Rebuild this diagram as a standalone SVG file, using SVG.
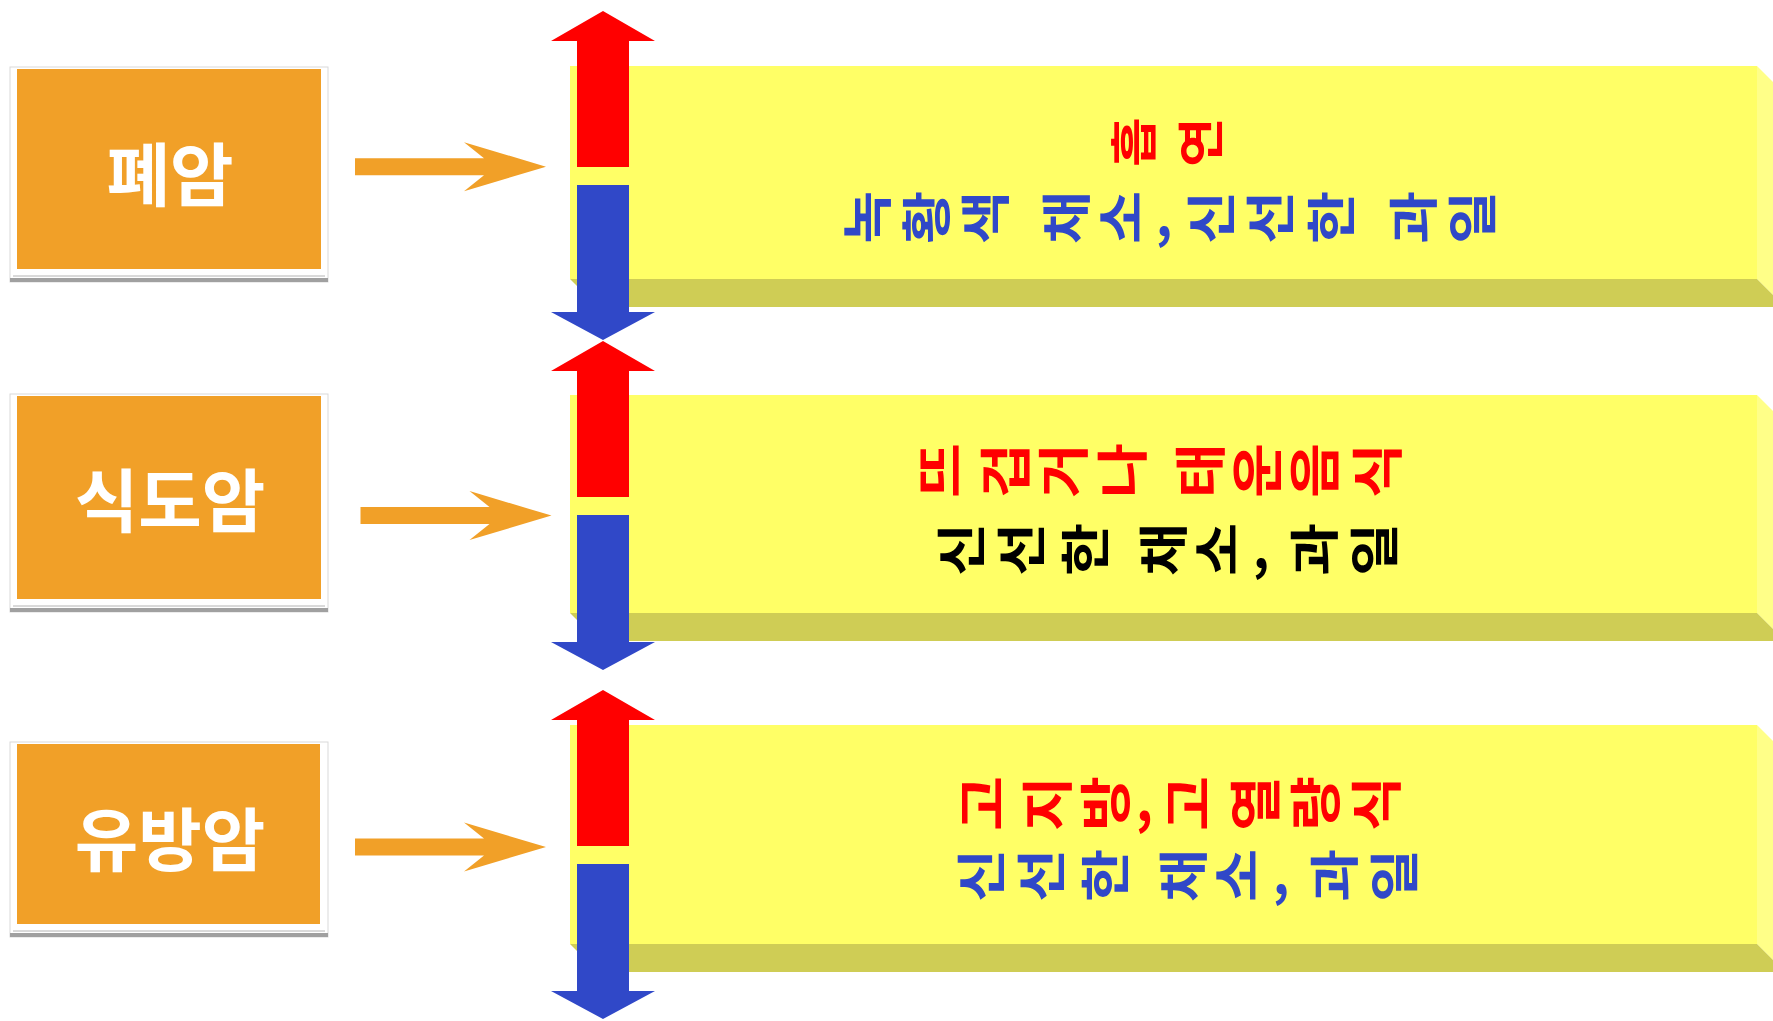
<svg xmlns="http://www.w3.org/2000/svg" width="1773" height="1021" viewBox="0 0 1773 1021">
<style>
.frame{fill:#ffffff;stroke:#d9d9d9;stroke-width:1}
.frameline{stroke:#b4b4b4;stroke-width:1;fill:none}
.frameband{fill:#a0a0a0}
.obox{fill:#F1A028}
.otxt{font-family:'Noto Sans CJK KR','Noto Sans',sans-serif;font-weight:700;font-size:69px;fill:#ffffff;text-anchor:middle}
.yfront{fill:#FFFF66}
.ybottom{fill:#CFCD55}
.yside{fill:#FFFF88}
.vt{font-family:'Noto Sans CJK KR','Noto Sans',sans-serif;font-weight:700}
.red{fill:#FF0000}
.blue{fill:#3048C8}
.black{fill:#000000}
.oarrow{fill:#F1A028}
.uparrow{fill:#FF0000}
.downarrow{fill:#3048C8}
</style>
<defs>
<path id="oa" d="M0,-8.5 L129,-8.5 L109,-24.5 L191,0 L109,24.5 L129,8.5 L0,8.5 Z"/>
<path id="ua" d="M603,11 L655,41 L629,41 L629,167 L577,167 L577,41 L551,41 Z"/>
<path id="da" d="M577,185 L629,185 L629,312 L655,312 L603,340 L551,312 L577,312 Z"/>
</defs>
<rect width="1773" height="1021" fill="#ffffff"/>

<g id="node-lung">
<rect class="frame" x="10" y="67" width="318" height="215"/>
<line class="frameline" x1="13" y1="276" x2="325" y2="276"/>
<rect class="frameband" x="10" y="278" width="318" height="4"/>
<rect class="obox" x="17" y="69" width="304" height="200"/>
<text class="otxt" x="170" y="201">폐암</text>
</g>

<g id="node-esophagus">
<rect class="frame" x="10" y="394" width="318" height="218"/>
<line class="frameline" x1="13" y1="606" x2="325" y2="606"/>
<rect class="frameband" x="10" y="608" width="318" height="4"/>
<rect class="obox" x="17" y="396" width="304" height="203"/>
<text class="otxt" x="170" y="527">식도암</text>
</g>

<g id="node-breast">
<rect class="frame" x="10" y="742" width="318" height="195"/>
<line class="frameline" x1="13" y1="931" x2="325" y2="931"/>
<rect class="frameband" x="10" y="933" width="318" height="4"/>
<rect class="obox" x="17" y="744" width="303" height="180"/>
<text class="otxt" x="170" y="866">유방암</text>
</g>

<g id="connectors">
<use href="#oa" class="oarrow" transform="translate(355,166.7)"/>
<use href="#oa" class="oarrow" transform="translate(360.5,515.6)"/>
<use href="#oa" class="oarrow" transform="translate(355,847)"/>
</g>

<g id="node-factors-lung">
<polygon class="yside" points="1757,66 1785,94 1785,307 1757,279"/>
<polygon class="ybottom" points="570,279 1757,279 1785,307 598,307"/>
<rect class="yfront" x="570" y="66" width="1187" height="213"/>
<use href="#ua" class="uparrow"/>
<use href="#da" class="downarrow"/>
<text class="vt red" font-size="47" transform="translate(0,140) scale(1,1.15) translate(0,-140)" x="1151 1218" y="163.5" rotate="-90 -90">흡연</text>
<text class="vt blue" font-size="50" transform="translate(0,215) scale(1,1.15) translate(0,-215)" x="886 945 1004 1020 1085 1140 1156 1170 1230 1289 1350 1370 1432 1491" y="240 240 240 240 240 240 233 240 240 240 240 240 240 240" rotate="-90 -90 -90 -90 -90 -90 0 -90 -90 -90 -90 -90 -90 -90">녹황색 채소, 신선한 과일</text>
</g>

<g id="node-factors-esophagus">
<polygon class="yside" points="1757,395 1785,423 1785,641 1757,613"/>
<polygon class="ybottom" points="570,613 1757,613 1785,641 598,641"/>
<rect class="yfront" x="570" y="395" width="1187" height="218"/>
<use href="#ua" class="uparrow" transform="translate(0,330)"/>
<use href="#da" class="downarrow" transform="translate(0,330)"/>
<text class="vt red" font-size="52" transform="translate(0,468) scale(1,1.15) translate(0,-468)" x="960 1025 1083 1142 1160 1220 1277 1334 1397" y="494" rotate="-90 -90 -90 -90 -90 -90 -90 -90 -90">뜨겁거나 태운음식</text>
<text class="vt black" font-size="50" transform="translate(0,547) scale(1,1.15) translate(0,-547)" x="980 1040 1104 1120 1182 1236 1253 1265 1333 1393" y="572 572 572 572 572 572 565 572 572 572" rotate="-90 -90 -90 -90 -90 -90 0 -90 -90 -90">신선한 채소, 과일</text>
</g>

<g id="node-factors-breast">
<polygon class="yside" points="1757,725 1785,753 1785,972 1757,944"/>
<polygon class="ybottom" points="570,944 1757,944 1785,972 598,972"/>
<rect class="yfront" x="570" y="725" width="1187" height="219"/>
<use href="#ua" class="uparrow" transform="translate(0,679)"/>
<use href="#da" class="downarrow" transform="translate(0,679)"/>
<text class="vt red" font-size="52" transform="translate(0,801) scale(1,1.15) translate(0,-801)" x="1002 1067 1125 1136 1150 1208 1275 1335 1396" y="827 827 827 818 827 827 827 827 827" rotate="-90 -90 -90 0 -90 -90 -90 -90 -90">고지방, 고열량식</text>
<text class="vt blue" font-size="50" transform="translate(0,873) scale(1,1.15) translate(0,-873)" x="1000 1060 1124 1140 1202 1256 1273 1285 1353 1413" y="898 898 898 898 898 898 891 898 898 898" rotate="-90 -90 -90 -90 -90 -90 0 -90 -90 -90">신선한 채소, 과일</text>
</g>
</svg>
